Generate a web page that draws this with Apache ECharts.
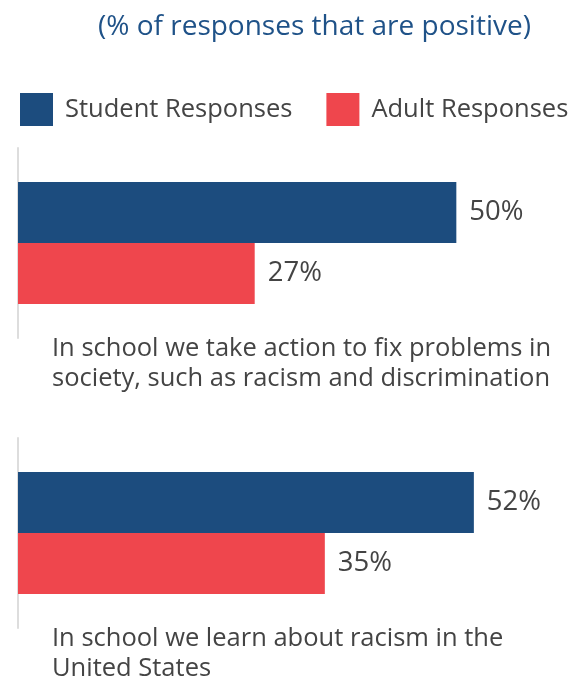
<!DOCTYPE html>
<html>
<head>
<meta charset="utf-8">
<script src="https://cdn.jsdelivr.net/npm/echarts@6/dist/echarts.min.js"></script>
<style>
  html, body { margin: 0; padding: 0; background: #ffffff; }
  #chart { width: 582px; height: 680px; }
</style>
</head>
<body>
<div id="chart"></div>
<script>
// Survey statements and the share of positive responses for each group
const categories = [
  'In school we take action to fix problems in\nsociety, such as racism and discrimination',
  'In school we learn about racism in the\nUnited States'
];
const seriesNames = ['Student Responses', 'Adult Responses'];
const studentValues = [50, 52];
const adultValues = [27, 35];
const titleText = '(% of responses that are positive)';

const FONT = '"Open Sans", "Noto Sans", sans-serif';
const TEXT = '#444444';
const colors = ['#1c4c7e', '#ef464d'];

// one grid per statement, stacked vertically; labels may run past the
// canvas edge, so the grid rectangles are kept exactly as given
const gridTops = [148, 438];
const grids = gridTops.map(function (t) {
  return { left: 18, top: t, width: 526, height: 190, outerBoundsMode: 'none', containLabel: false };
});

const xAxes = categories.map(function (_, i) {
  return {
    type: 'value', gridIndex: i, min: 0, max: 60,
    show: false
  };
});

const yAxes = categories.map(function (c, i) {
  return {
    type: 'category', gridIndex: i, data: [c],
    axisLine: { show: true, lineStyle: { color: '#dddddd', width: 2 } },
    axisTick: { show: false },
    splitLine: { show: false },
    axisLabel: {
      show: true, inside: true, margin: 34, interval: 0,
      align: 'left', verticalAlign: 'top',
      padding: [91, 0, 0, 0],
      fontFamily: FONT, fontSize: 25.5, lineHeight: 30, color: TEXT
    }
  };
});

const valueLabel = {
  show: true, position: 'right', distance: 13,
  formatter: '{c}%', fontFamily: FONT, fontSize: 27.5, color: TEXT
};

const series = [];
categories.forEach(function (_, i) {
  [studentValues, adultValues].forEach(function (vals, k) {
    series.push({
      type: 'bar', name: seriesNames[k],
      xAxisIndex: i, yAxisIndex: i,
      data: [vals[i]],
      barWidth: 61, barGap: '0%',
      itemStyle: { color: colors[k] },
      label: valueLabel,
      silent: true
    });
  });
});

const chart = echarts.init(document.getElementById('chart'), null, { renderer: 'canvas' });
chart.setOption({
  animation: false,
  color: colors,
  title: {
    text: titleText,
    left: 98, top: 13, padding: 0,
    textStyle: { fontFamily: FONT, fontSize: 28, fontWeight: 'normal', color: '#1f5288' }
  },
  legend: {
    data: seriesNames,
    left: 20, top: 93, padding: 0,
    icon: 'rect', itemWidth: 33, itemHeight: 33, itemGap: 34,
    textStyle: { fontFamily: FONT, fontSize: 25.5, color: TEXT, padding: [0, 0, 0, 7] },
    selectedMode: false
  },
  grid: grids,
  xAxis: xAxes,
  yAxis: yAxes,
  series: series
});
</script>
</body>
</html>
